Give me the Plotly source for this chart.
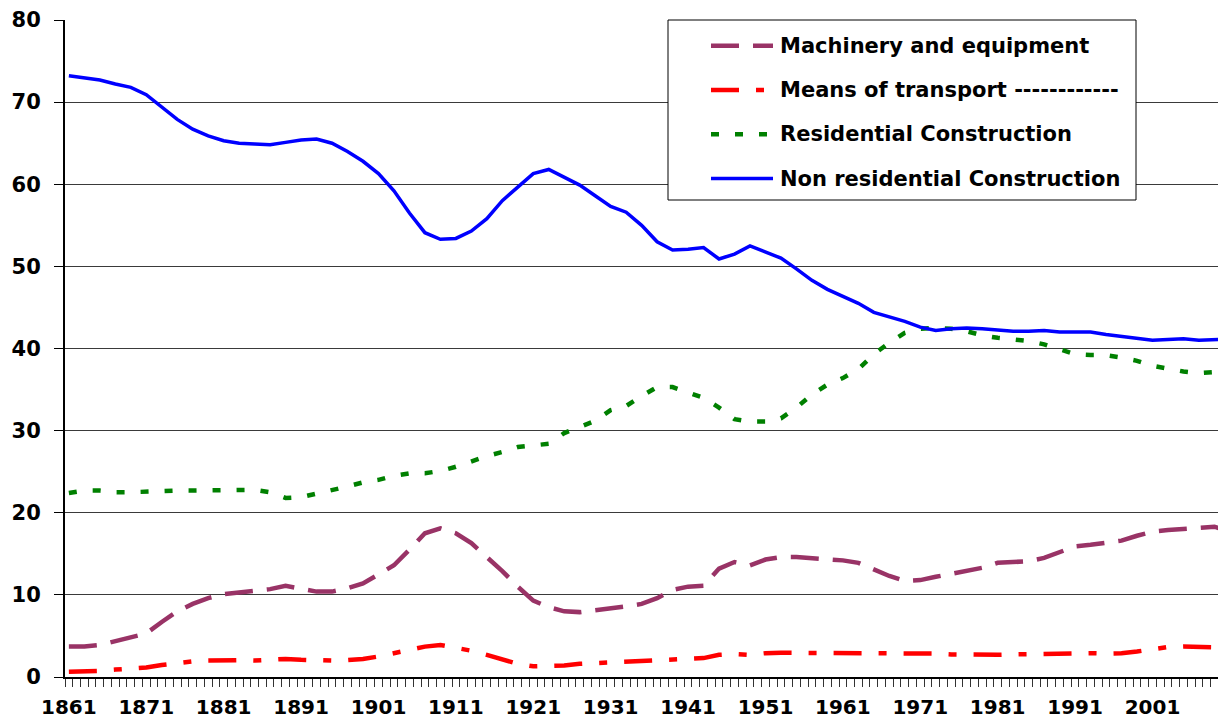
import plotly.graph_objects as go

years = list(range(1861, 2010, 2)) + [2010]

non_residential = [
    73.2, 73.0, 72.7, 72.2, 71.8, 70.9, 69.4, 67.9, 66.7, 65.9,
    65.3, 65.0, 64.9, 64.8, 65.1, 65.4, 65.5, 65.0, 64.0, 62.8,
    61.3, 59.2, 56.5, 54.1, 53.3, 53.4, 54.3, 55.8, 58.0, 59.7,
    61.3, 61.8, 60.9, 59.9, 58.6, 57.3, 56.6, 55.0, 53.0, 52.0,
    52.1, 52.3, 50.9, 51.5, 52.5, 51.8, 51.0, 49.7, 48.3, 47.2,
    46.4, 45.5, 44.4, 43.9, 43.3, 42.6, 42.2, 42.4, 42.5, 42.4,
    42.2, 42.1, 42.1, 42.2, 42.0, 42.0, 42.0, 41.7, 41.5, 41.2,
    41.0, 41.1, 41.2, 41.0, 41.1, 41.1,
]

residential = [
    22.4, 22.7, 22.7, 22.5, 22.5, 22.6, 22.7, 22.7, 22.7, 22.7,
    22.7, 22.7, 22.8, 22.5, 21.8, 21.9, 22.3, 22.7, 23.2, 23.7,
    24.0, 24.5, 24.8, 24.8, 25.1, 25.6, 26.3, 26.9, 27.4, 28.0,
    28.2, 28.4, 29.7, 30.4, 31.2, 32.5, 33.0, 34.2, 35.3, 35.3,
    34.6, 34.0, 32.8, 31.4, 31.1, 31.1, 31.5, 32.8, 34.4, 35.6,
    36.4, 37.5, 39.3, 40.7, 41.9, 42.4, 42.5, 42.4, 42.1, 41.6,
    41.3, 41.1, 40.9, 40.5, 39.9, 39.3, 39.2, 39.2, 38.9, 38.5,
    37.9, 37.5, 37.2, 37.0, 37.1, 37.2,
]

machinery = [
    3.7, 3.7, 3.9, 4.4, 4.8, 5.3, 6.7, 8.0, 8.9, 9.6,
    10.1, 10.3, 10.4, 10.7, 11.1, 10.8, 10.4, 10.4, 10.8, 11.4,
    12.5, 13.6, 15.5, 17.5, 18.1, 17.5, 16.3, 14.6, 12.9, 11.0,
    9.3, 8.5, 8.0, 7.9, 8.1, 8.3, 8.6, 8.9, 9.6, 10.6,
    11.0, 11.1, 13.2, 14.0, 13.6, 14.3, 14.6, 14.6, 14.5, 14.3,
    14.2, 13.9, 13.1, 12.3, 11.7, 11.8, 12.2, 12.6, 12.9, 13.3,
    13.9, 14.0, 14.1, 14.5, 15.2, 15.9, 16.1, 16.3, 16.6, 17.2,
    17.7, 17.9, 18.0, 18.2, 18.3, 18.0,
]

transport = [
    0.65, 0.65, 0.75, 0.9, 1.0, 1.15, 1.45, 1.7, 1.9, 2.0,
    2.05, 2.05, 2.0, 2.15, 2.2, 2.1, 2.0, 2.0, 2.05, 2.2,
    2.5, 2.9, 3.3, 3.7, 3.9, 3.6, 3.2, 2.7, 2.2, 1.6,
    1.3, 1.3, 1.4, 1.6, 1.7, 1.7, 1.85, 1.95, 2.0, 2.15,
    2.2, 2.3, 2.7, 2.8, 2.7, 2.9, 2.95, 2.95, 2.85, 2.85,
    2.9, 2.95, 2.95, 2.95, 2.95, 2.95, 2.85, 2.75, 2.7, 2.7,
    2.7, 2.75, 2.8, 2.85, 2.85, 2.9, 2.9, 2.85, 2.9, 3.1,
    3.4, 3.65, 3.7, 3.7, 3.65, 3.6,
]

series_names = [
    "Machinery and equipment",
    "Means of transport ------------",
    "Residential Construction",
    "Non residential Construction",
]

x_tick_labels = [str(y) for y in range(1861, 2010, 10)]
y_tick_values = list(range(0, 81, 10))

FONT = "DejaVu Sans, Liberation Sans, Arial, sans-serif"

# The page body has an 8px margin, so the figure is sized to fit inside it.
OFF = 8
W, H = 1226 - OFF, 727 - 2 * OFF
# plot area in page pixels: x 65..1226, y 20..677
ML, MR, MT = 65 - OFF, 0, 20 - OFF
MB = H - (677 - OFF)
PW, PH = W - ML - MR, H - MT - MB


def px_x(px):
    return (px - OFF - ML) / PW


def px_y(py):
    return (H - MB - (py - OFF)) / PH


styles = [
    (machinery, "#993366", 4.5, "28px,14px"),
    (transport, "#FF0000", 4.5, "28px,17px,8px,17px"),
    (residential, "#008000", 4.5, "8px,16px"),
    (non_residential, "#0000FF", 3.5, "solid"),
]

fig = go.Figure()
for i, (vals, color, w, dash) in enumerate(styles):
    fig.add_trace(go.Scatter(
        x=years, y=vals, mode="lines", name=series_names[i],
        line=dict(color=color, width=w, dash=dash),
        showlegend=False,
    ))

# custom legend box (matches the reference's long line samples)
shapes = [dict(
    type="rect", xref="paper", yref="paper",
    x0=px_x(668), x1=px_x(1136), y0=px_y(200), y1=px_y(20),
    line=dict(color="black", width=1), fillcolor="white", layer="above",
)]
annotations = []
row_y = [45.7, 90.0, 134.3, 178.6]
for i, (vals, color, w, dash) in enumerate(styles):
    yy = px_y(row_y[i])
    shapes.append(dict(
        type="line", xref="paper", yref="paper",
        x0=px_x(711), x1=px_x(773), y0=yy, y1=yy,
        line=dict(color=color, width=w, dash=dash), layer="above",
    ))
    annotations.append(dict(
        xref="paper", yref="paper", x=px_x(778), y=yy,
        xanchor="left", yanchor="middle", showarrow=False,
        text=series_names[i],
        font=dict(family=FONT, size=21, color="black", weight="bold"),
    ))

fig.update_layout(
    width=W, height=H,
    margin=dict(l=ML, r=MR, t=MT, b=MB, pad=0),
    paper_bgcolor="white", plot_bgcolor="white",
    font=dict(family=FONT, color="black"),
    showlegend=False,
    shapes=shapes, annotations=annotations,
)
fig.update_xaxes(
    range=[1860.5, 2010.5], automargin=False,
    tickmode="array", tickvals=[int(t) for t in x_tick_labels], ticktext=x_tick_labels,
    ticks="",
    minor=dict(tickmode="linear", dtick=1, tick0=1860.5, ticks="outside", ticklen=8,
               tickcolor="#333333", tickwidth=1, showgrid=False),
    showgrid=False, showline=True, linecolor="black", linewidth=2,
    tickfont=dict(family=FONT, size=20, color="black", weight="bold"),
    ticklabelstandoff=11, zeroline=False,
)
fig.update_yaxes(
    range=[0, 80], automargin=False, tickmode="array", tickvals=y_tick_values,
    ticks="outside", ticklen=9, tickcolor="black",
    showgrid=True, gridcolor="#3a3a3a", gridwidth=1,
    showline=True, linecolor="black", linewidth=2,
    tickfont=dict(family=FONT, size=21, color="black", weight="bold"),
    ticklabelstandoff=9, zeroline=False,
)

fig.write_html("out.html")
